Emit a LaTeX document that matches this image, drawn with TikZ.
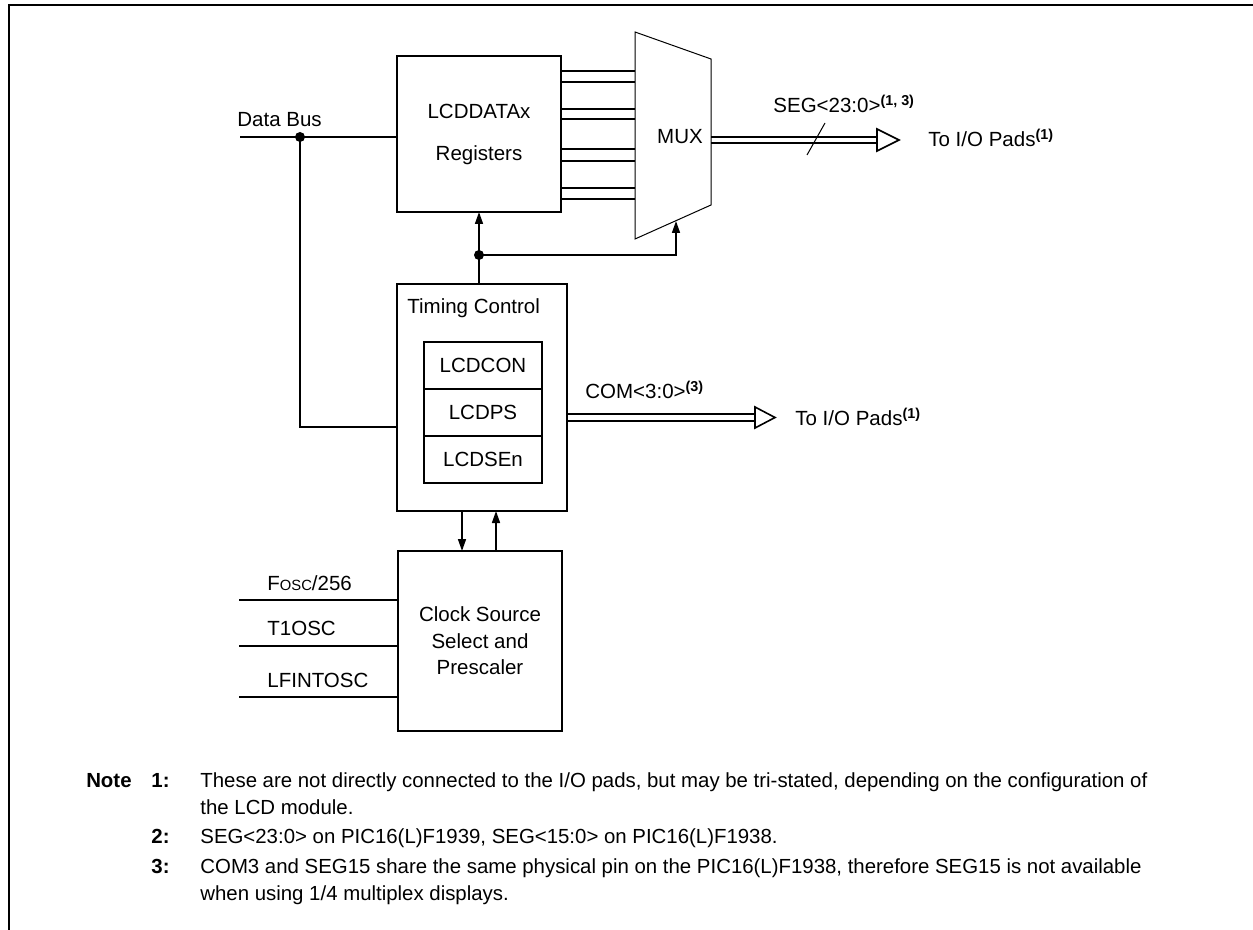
\documentclass[tikz,border=0pt]{standalone}
\usepackage{fontspec}
\setmainfont{Liberation Sans}
\usepackage{tikz}
\usetikzlibrary{arrows.meta, positioning, calc}

\begin{document}
\begin{tikzpicture}[
    x=0.5pt, y=-0.5pt,
    font=\fontsize{10.25}{12.5}\selectfont,
    block/.style={draw, line width=0.9pt, inner sep=0pt, outer sep=0pt, align=center},
    regbox/.style={block, minimum width=82pt, minimum height=78pt},
    ctrlbox/.style={block, minimum width=85pt, minimum height=113.5pt},
    clkbox/.style={block, minimum width=82pt, minimum height=90pt, font=\fontsize{10.25}{13.25}\selectfont},
    sfr/.style={block, minimum width=59pt, minimum height=23.5pt},
    wire/.style={line width=0.8pt},
    busline/.style={line width=1pt},
    arrow/.style={wire, -{Triangle[length=6pt, width=4pt]}},
    busarrow/.style={line width=0.8pt, fill=white, line join=miter},
    dot/.style={circle, fill, inner sep=0pt, minimum size=5pt},
    txt/.style={anchor=base west, inner sep=0pt},
    notenum/.style={anchor=base east, inner sep=0pt, font=\fontsize{10.2}{13.5}\selectfont\bfseries},
    notetext/.style={anchor=base west, inner sep=0pt, align=left, font=\fontsize{10.2}{13.5}\selectfont}
]
\useasboundingbox (0,0) rectangle (1253,930);
\draw[line width=1pt] (9,930) -- (9,5) -- (1253,5);

% blocks
\node[regbox] (regs) at (479,134) {LCDDATAx\\[8.5pt]Registers};
\node[ctrlbox] (tc) at (482,397.5) {};
\node[txt] (tclbl) at (407,314) {Timing Control};
\node[sfr] (lcdcon) at (483,365.5) {LCDCON};
\node[sfr, below=0pt of lcdcon] (lcdps) {LCDPS};
\node[sfr, below=0pt of lcdps] (lcdsen) {LCDSEn};
\node[clkbox] (clk) at (480,641) {Clock Source\\Select and\\Prescaler};

% multiplexer
\coordinate (mux1) at (635,32);
\coordinate (mux2) at (711,59);
\coordinate (mux3) at (711,205);
\coordinate (mux4) at (635,239);
\draw[line width=0.5pt] (mux1) -- (mux2) -- (mux3) -- (mux4) -- cycle;
\node (mux) at (680,137) {MUX};
\coordinate (muxsel) at (676,221);

\foreach \y in {71,82,109,119,149,161,188,199}
    \draw[wire] (regs.east |- 0,\y) -- (mux1 |- 0,\y);

% data bus
\coordinate (busin) at (240,137);
\node[txt] (buslbl) at (237,127) {Data Bus};
\node[dot] (busdot) at (300,137) {};
\draw[wire] (busin) -- (regs.west |- busin);
\draw[wire] (busdot.center) |- ($(tc.west)+(0,29.5)$);

% timing control to registers and mux
\node[dot] (split) at (479,255) {};
\draw[wire] (tc.north -| split) -- (split.center);
\draw[arrow] (split.center) -- (regs.south -| split);
\draw[arrow] (split.center) -| (muxsel);

% timing control and clock source
\draw[arrow] (tc.south -| 462,0) -- (clk.north -| 462,0);
\draw[arrow] (clk.north -| 496,0) -- (tc.south -| 496,0);

% clock inputs
\coordinate (in1) at (239,600);
\coordinate (in2) at (239,646);
\coordinate (in3) at (239,697);
\draw[wire] (in1) -- (clk.west |- in1);
\draw[wire] (in2) -- (clk.west |- in2);
\draw[wire] (in3) -- (clk.west |- in3);
\node[txt] (fosc) at (267,590) {F{\fontsize{7.4}{9}\selectfont OSC}/256};
\node[txt] (t1osc) at (267,635) {T1OSC};
\node[txt] (lfint) at (267,687) {LFINTOSC};

% segment bus
\coordinate (segout) at (711,140);
\coordinate (segtip) at (899,140);
\draw[busline] ([yshift=1.6pt]segout) -- ([xshift=-11pt,yshift=1.6pt]segtip);
\draw[busline] ([yshift=-1.6pt]segout) -- ([xshift=-11pt,yshift=-1.6pt]segtip);
\draw[busarrow] ([xshift=-11pt,yshift=5.5pt]segtip) -- (segtip) -- ([xshift=-11pt,yshift=-5.5pt]segtip) -- cycle;
\draw[line width=0.5pt] (807,155) -- (825,123);
\node[txt] (seglbl) at (773,113) {SEG<23:0>\textsuperscript{\bfseries (1, 3)}};
\node[txt] (segpad) at (928,147) {To I/O Pads\textsuperscript{\bfseries (1)}};

% common bus
\coordinate (comout) at (tc.east |- 0,417.5);
\coordinate (comtip) at (775,417.5);
\draw[busline] ([yshift=1.6pt]comout) -- ([xshift=-10pt,yshift=1.6pt]comtip);
\draw[busline] ([yshift=-1.6pt]comout) -- ([xshift=-10pt,yshift=-1.6pt]comtip);
\draw[busarrow] ([xshift=-10pt,yshift=5.25pt]comtip) -- (comtip) -- ([xshift=-10pt,yshift=-5.25pt]comtip) -- cycle;
\node[txt] (comlbl) at (585,399) {COM<3:0>\textsuperscript{\bfseries (3)}};
\node[txt] (compad) at (795,426) {To I/O Pads\textsuperscript{\bfseries (1)}};

% notes
\node[notenum] (notehd) at (132,787) {Note};
\node[notenum] (n1) at (170,787) {1:};
\node[notenum] (n2) at (170,843) {2:};
\node[notenum] (n3) at (170,873) {3:};
\node[notetext] (t1) at (200,814) {These are not directly connected to the I/O pads, but may be tri-stated, depending on the configuration of\\the LCD module.};
\node[notetext] (t2) at (200,843) {SEG<23:0> on PIC16(L)F1939, SEG<15:0> on PIC16(L)F1938.};
\node[notetext] (t3) at (200,900) {COM3 and SEG15 share the same physical pin on the PIC16(L)F1938, therefore SEG15 is not available\\when using 1/4 multiplex displays.};
\end{tikzpicture}
\end{document}
